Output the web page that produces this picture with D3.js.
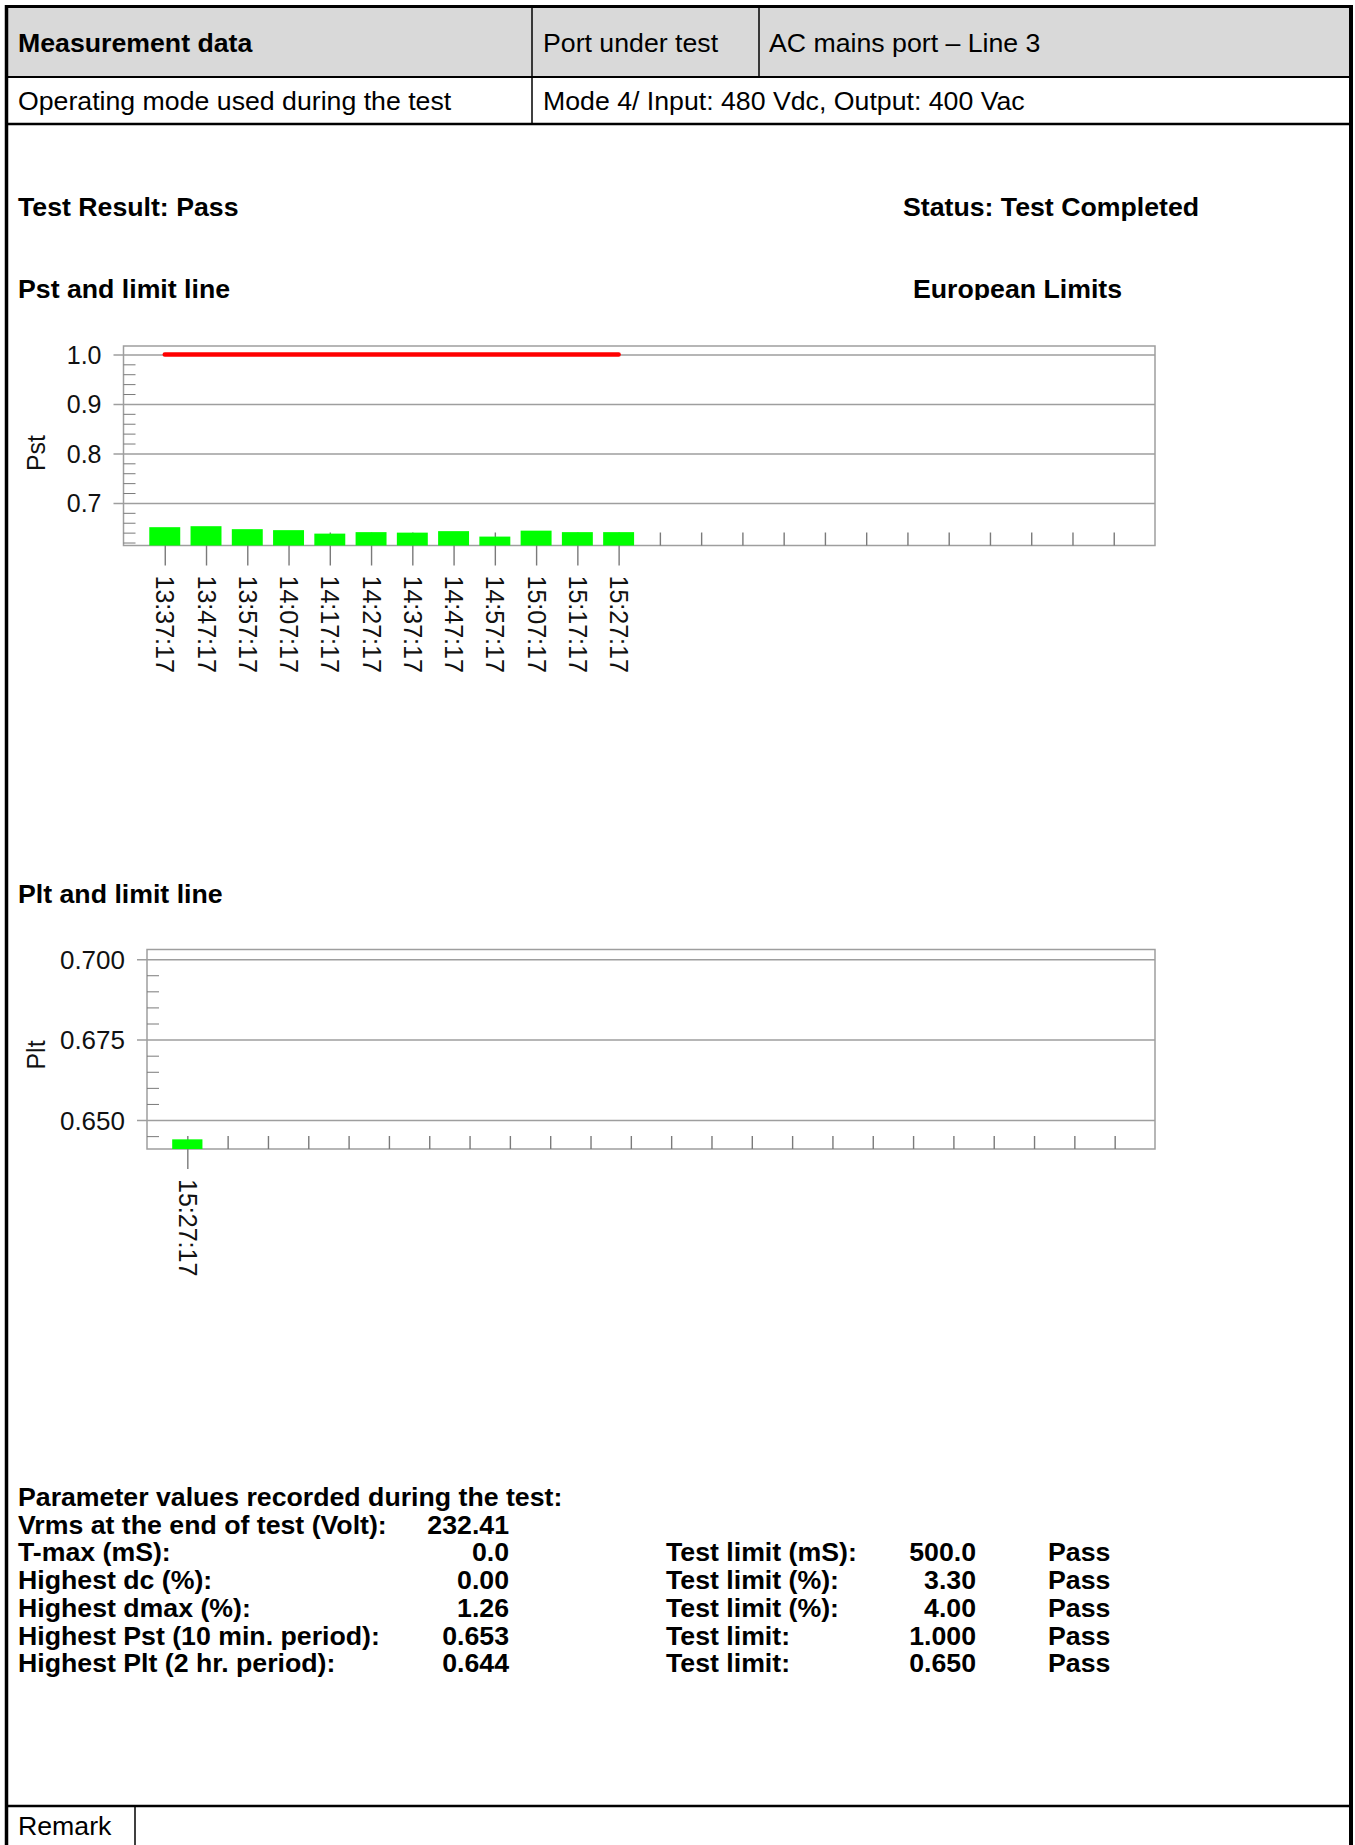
<!DOCTYPE html>
<html>
<head>
<meta charset="utf-8">
<title>Flicker measurement – AC mains port, Line 3</title>
<script src="https://cdn.jsdelivr.net/npm/d3@7/dist/d3.min.js"></script>
<style>
  html, body { margin: 0; padding: 0; background: #fff; }
  svg { display: block; }
</style>
</head>
<body>
<svg id="page" width="1355" height="1845"></svg>
<script>
// ---- Report header ----
const headerCells = ["Measurement data", "Port under test", "AC mains port \u2013 Line 3"];
const modeCells = ["Operating mode used during the test", "Mode 4/ Input: 480 Vdc, Output: 400 Vac"];
const resultText = "Test Result: Pass";
const statusText = "Status: Test Completed";
const limitsText = "European Limits";

// ---- Pst: short-term flicker, one value per 10-minute interval ----
const pstTimes = ["13:37:17", "13:47:17", "13:57:17", "14:07:17", "14:17:17", "14:27:17",
                  "14:37:17", "14:47:17", "14:57:17", "15:07:17", "15:17:17", "15:27:17"];
const pstValues = [0.651, 0.653, 0.647, 0.645, 0.638, 0.641, 0.640, 0.643, 0.632, 0.644, 0.641, 0.641];
const pstLimit = 1.0;
const pstTicks = [0.7, 0.8, 0.9, 1.0];

// ---- Plt: long-term flicker, one value per 2-hour period ----
const pltTimes = ["15:27:17"];
const pltValues = [0.644];
const pltLimit = 0.650;
const pltTicks = [0.650, 0.675, 0.700];

// number of time slots on each x axis
const slotCount = 24;

// ---- Recorded parameters ----
const paramLabels = ["Vrms at the end of test (Volt):", "T-max (mS):", "Highest dc (%):",
                     "Highest dmax (%):", "Highest Pst (10 min. period):", "Highest Plt (2 hr. period):"];
const paramValues = ["232.41", "0.0", "0.00", "1.26",
                     d3.max(pstValues).toFixed(3), d3.max(pltValues).toFixed(3)];
const limitLabels = [null, "Test limit (mS):", "Test limit (%):", "Test limit (%):", "Test limit:", "Test limit:"];
const limitValues = [null, "500.0", "3.30", "4.00", pstLimit.toFixed(3), pltLimit.toFixed(3)];
const verdicts = [null, "Pass", "Pass", "Pass", "Pass", "Pass"];

const W = 1355, H = 1845;
const FONT = '"Liberation Sans", Arial, Helvetica, sans-serif';
const TEXT_SIZE = 26.7;
const svg = d3.select("#page").style("font-family", FONT);

svg.append("rect").attr("width", W).attr("height", H).attr("fill", "#fff");

function rule(x1, y1, x2, y2, w, color = "#000") {
  svg.append("line")
    .attr("x1", x1).attr("y1", y1).attr("x2", x2).attr("y2", y2)
    .attr("stroke", color).attr("stroke-width", w);
}
function label(x, y, text, opts = {}) {
  return svg.append("text")
    .attr("x", x).attr("y", y)
    .attr("font-size", opts.size || TEXT_SIZE)
    .attr("font-weight", opts.bold ? "bold" : "normal")
    .attr("text-anchor", opts.anchor || "start")
    .attr("fill", "#000")
    .text(text);
}

// ---- table header ----
svg.append("rect").attr("x", 8).attr("y", 7).attr("width", 1342).attr("height", 70).attr("fill", "#d9d9d9");
rule(6.5, 5, 6.5, H, 3.5);
rule(1351, 5, 1351, H, 4);
rule(5, 6.5, 1353, 6.5, 3);
rule(8, 77, 1350, 77, 2);
rule(8, 124, 1350, 124, 2.5);
rule(532, 8, 532, 124, 1.5);
rule(759, 8, 759, 77, 1.5);

label(18, 52, headerCells[0], { bold: true });
label(543, 52, headerCells[1]);
label(769, 52, headerCells[2]);
label(18, 110, modeCells[0]);
label(543, 110, modeCells[1]);

label(18, 216, resultText, { bold: true });
label(903, 216, statusText, { bold: true });
label(18, 298, "Pst and limit line", { bold: true });

// the limits caption sits in a cell that crops its descenders
svg.append("clipPath").attr("id", "limitsClip")
  .append("rect").attr("x", 880).attr("y", 250).attr("width", 400).attr("height", 50);
label(913, 298, limitsText, { bold: true }).attr("clip-path", "url(#limitsClip)");

label(18, 903, "Plt and limit line", { bold: true });

// ---- flicker bar chart ----
function flickerChart(cfg) {
  const { times, values, ticks, minorStep, domain, left, right, top, bottom, title, titleY, fmt, limit, tickFont } = cfg;
  const g = svg.append("g");
  const x = d3.scalePoint().domain(d3.range(slotCount)).range([left, right]).padding(1);
  const y = d3.scaleLinear().domain(domain).range([bottom, top]);
  const gridColor = "#9e9e9e";
  const tickColor = "#7a7a7a";
  const ink = "#111";

  // frame
  g.append("rect")
    .attr("x", left).attr("y", top)
    .attr("width", right - left).attr("height", bottom - top)
    .attr("fill", "none").attr("stroke", gridColor).attr("stroke-width", 1.5);

  // major gridlines, extended outward as ticks, with labels
  const major = g.append("g").attr("transform", `translate(${right},0)`)
    .call(d3.axisLeft(y).tickValues(ticks).tickSize(right - left + 10).tickPadding(12).tickFormat(d3.format(fmt)));
  major.select(".domain").remove();
  major.selectAll(".tick line").attr("stroke", gridColor).attr("stroke-width", 1.5);
  major.selectAll(".tick text")
    .attr("font-size", tickFont).attr("font-family", FONT).attr("fill", ink).attr("dy", "0.36em");

  // minor ticks inside the left edge
  const minorVals = d3.range(Math.ceil(domain[0] / minorStep - 1e-6), Math.floor(domain[1] / minorStep + 1e-6) + 1)
    .map(k => +(k * minorStep).toFixed(4))
    .filter(v => !ticks.some(t => Math.abs(t - v) < 1e-6));
  const minor = g.append("g").attr("transform", `translate(${left + 12},0)`)
    .call(d3.axisLeft(y).tickValues(minorVals).tickSize(12).tickFormat(""));
  minor.select(".domain").remove();
  minor.selectAll(".tick line").attr("stroke", tickColor).attr("stroke-width", 1);

  // slot ticks standing up from the x axis
  const slotAxis = g.append("g").attr("transform", `translate(0,${bottom})`)
    .call(d3.axisBottom(x).tickSize(-13).tickFormat(""));
  slotAxis.select(".domain").remove();
  slotAxis.selectAll(".tick line").attr("stroke", tickColor).attr("stroke-width", 1.4);

  // labelled slots: outward tick and vertical time label
  const labelAxis = g.append("g").attr("transform", `translate(0,${bottom})`)
    .call(d3.axisBottom(x).tickValues(d3.range(times.length)).tickSize(20).tickFormat(i => times[i]));
  labelAxis.select(".domain").remove();
  labelAxis.selectAll(".tick line").attr("stroke", tickColor).attr("stroke-width", 1.4);
  labelAxis.selectAll(".tick text")
    .attr("font-size", 25).attr("font-family", FONT).attr("fill", ink)
    .attr("x", 0).attr("y", 0).attr("dy", null)
    .attr("text-anchor", "start")
    .attr("dominant-baseline", "central")
    .attr("transform", "translate(0,30) rotate(90)");

  // bars
  const bw = x.step() * 0.75;
  g.append("g").selectAll("rect").data(values).join("rect")
    .attr("x", (d, i) => x(i) - bw / 2)
    .attr("y", d => y(d))
    .attr("width", bw)
    .attr("height", d => bottom - y(d))
    .attr("fill", "#00ff00");

  // limit line across the measured intervals
  if (limit != null && times.length > 1) {
    g.append("line")
      .attr("x1", x(0)).attr("x2", x(times.length - 1))
      .attr("y1", y(limit)).attr("y2", y(limit))
      .attr("stroke", "#ff0000").attr("stroke-width", 4.5).attr("stroke-linecap", "round");
  }

  // axis title
  g.append("text")
    .attr("transform", `translate(45,${titleY}) rotate(-90)`)
    .attr("text-anchor", "middle")
    .attr("font-size", 25).attr("fill", ink)
    .text(title);
}

flickerChart({
  times: pstTimes, values: pstValues, ticks: pstTicks, minorStep: 0.02,
  domain: [0.614, 1.017], left: 123.5, right: 1155, top: 346, bottom: 545.5,
  title: "Pst", titleY: 453, fmt: ".1f", limit: pstLimit, tickFont: 25
});

flickerChart({
  times: pltTimes, values: pltValues, ticks: pltTicks, minorStep: 0.005,
  domain: [0.641, 0.703], left: 147, right: 1155, top: 949.5, bottom: 1149,
  title: "Plt", titleY: 1055, fmt: ".3f", limit: pltLimit, tickFont: 26
});

// ---- recorded parameter summary ----
const rowY0 = 1506, rowStep = 27.7;
label(18, rowY0, "Parameter values recorded during the test:", { bold: true });
paramLabels.forEach((t, i) => {
  const yy = rowY0 + rowStep * (i + 1);
  label(18, yy, t, { bold: true });
  label(509, yy, paramValues[i], { bold: true, anchor: "end" });
  if (limitLabels[i]) {
    label(666, yy, limitLabels[i], { bold: true });
    label(976, yy, limitValues[i], { bold: true, anchor: "end" });
    label(1048, yy, verdicts[i], { bold: true });
  }
});

// ---- remark row ----
rule(8, 1806, 1350, 1806, 2.5);
rule(135, 1806, 135, H, 1.5);
label(18, 1835, "Remark");
</script>
</body>
</html>
